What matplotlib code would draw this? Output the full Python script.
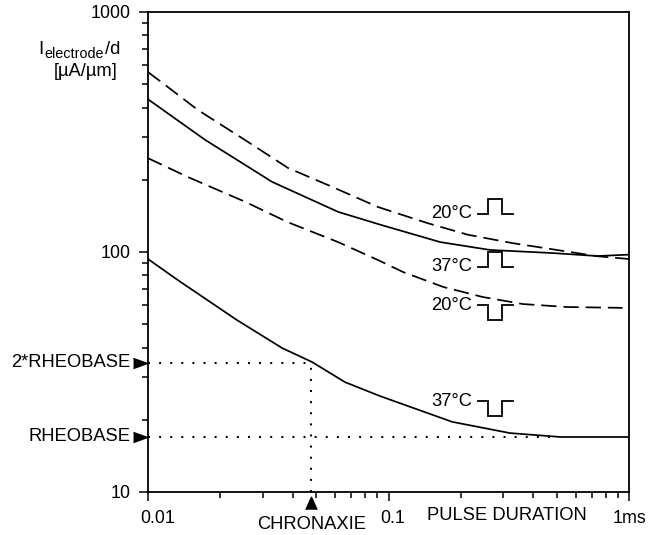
import matplotlib
matplotlib.use("Agg")
import matplotlib.pyplot as plt
from matplotlib import transforms

plt.rcParams['font.family'] = ['Liberation Sans', 'DejaVu Sans']
plt.rcParams['lines.scale_dashes'] = False

# ---------------- data (pulse duration in ms, current in uA/um) -------------
# 20 degC, positive pulse - upper dashed
up20_x = [0.01, 0.0118, 0.0161, 0.0253, 0.0382, 0.0582, 0.0904, 0.145, 0.214, 0.326, 0.50, 0.74, 1.0]
up20_y = [562, 496, 391, 293, 224, 187, 154, 132, 118, 109, 102, 96, 93.5]
# 37 degC, positive pulse - upper solid
up37_x = [0.01, 0.0173, 0.0328, 0.0617, 0.0923, 0.164, 0.264, 0.48, 0.74, 1.0]
up37_y = [433, 293, 196, 147, 130, 110, 102, 99, 96.2, 97.5]
# 20 degC, negative pulse - lower dashed
lo20_x = [0.01, 0.0147, 0.0253, 0.0382, 0.0617, 0.0904, 0.115, 0.169, 0.247, 0.362, 0.55, 0.94]
lo20_y = [246, 205, 162, 133, 110, 92.6, 82.5, 71.5, 64.9, 60.7, 59.0, 58.5]
# 37 degC, negative pulse - lower solid
lo37_x = [0.01, 0.0133, 0.0234, 0.0361, 0.0481, 0.0659, 0.0922, 0.184, 0.32, 0.52, 1.0]
lo37_y = [93.5, 76.4, 52.1, 39.8, 34.8, 28.7, 25.1, 19.6, 17.6, 16.95, 16.95]

rheobase = 17.0
two_rheobase = 34.5
chronaxie = 0.0477
rheobase_line_end = 0.48

x_ticks = [0.01, 0.1, 1.0]
x_ticklabels = ['0.01', '0.1', '1ms']
y_ticks = [10, 100, 1000]
y_ticklabels = ['10', '100', '1000']

curve_labels = ['20°C', '37°C', '20°C', '37°C']
label_y = [144, 86.6, 60.1, 23.9]
pulse_dir = [1, 1, -1, -1]
label_x = 0.223

# ---------------- figure -------------------------------------------------------
W, H = 650, 535
DPI = 100
fig = plt.figure(figsize=(W / DPI, H / DPI), dpi=DPI)
ax = fig.add_axes([148 / W, 1 - 492 / H, (629 - 148) / W, (492 - 12) / H])
ax.set_xscale('log')
ax.set_yscale('log')
ax.set_xlim(0.01, 1.0)
ax.set_ylim(10, 1000)

FS = 13.2
FS_TICK = 12.9
LW = 1.25
dash = (0, (11, 5))
dot = (0, (1.4, 6.6))

ax.plot(up20_x, up20_y, color='black', lw=LW, linestyle=dash)
ax.plot(up37_x, up37_y, color='black', lw=LW)
ax.plot(lo20_x, lo20_y, color='black', lw=LW, linestyle=dash)
ax.plot(lo37_x, lo37_y, color='black', lw=LW)

# dotted guide lines
ax.plot([0.01, chronaxie], [two_rheobase, two_rheobase], color='black', lw=1.5, linestyle=dot)
ax.plot([0.01, rheobase_line_end], [rheobase, rheobase], color='black', lw=1.5, linestyle=dot)
ax.plot([chronaxie, chronaxie], [10, two_rheobase], color='black', lw=1.5, linestyle=dot)

# ticks
ax.set_xticks(x_ticks)
ax.set_xticklabels(x_ticklabels)
ax.set_yticks(y_ticks)
ax.set_yticklabels(y_ticklabels)
ax.tick_params(which='major', direction='out', length=6.3, width=1.1, labelsize=FS_TICK, pad=6.5)
ax.tick_params(which='minor', direction='out', length=4, width=1.1)
ax.tick_params(axis='x', which='both', top=False)
ax.tick_params(axis='y', which='both', right=False)
ax.tick_params(axis='y', which='major', pad=6)
for s in ax.spines.values():
    s.set_linewidth(1.3)

# small horizontal shifts of x tick labels as in the reference
shifts = [10, 4, 1]
for lab, dx in zip(ax.get_xticklabels(), shifts):
    lab.set_transform(lab.get_transform() + transforms.ScaledTranslation(dx / DPI, 0, fig.dpi_scale_trans))

# axis annotations
fig.text(507 / W, 1 - 516 / H, 'PULSE DURATION', ha='center', va='center', fontsize=FS)
# y label: I_electrode/d   [uA/um]
fig.text(38 / W, 1 - 54 / H, 'I', ha='left', va='baseline', fontsize=FS)
fig.text(44 / W, 1 - 58 / H, 'electrode', ha='left', va='baseline', fontsize=10.4)
fig.text(105 / W, 1 - 54 / H, '/d', ha='left', va='baseline', fontsize=FS)
fig.text(86 / W, 1 - 71 / H, '[µA/µm]', ha='center', va='center', fontsize=FS)

# rheobase arrows and labels
blend = transforms.blended_transform_factory(ax.transAxes, ax.transData)
tri_right = [(-1, -0.72), (1, 0), (-1, 0.72)]
for yv, txt in [(two_rheobase, '2*RHEOBASE'), (rheobase, 'RHEOBASE')]:
    tr = blend + transforms.ScaledTranslation(-8 / DPI, 0, fig.dpi_scale_trans)
    ax.plot([0], [yv], marker=tri_right, markersize=10, color='black', transform=tr, clip_on=False)
    tr2 = blend + transforms.ScaledTranslation(-17.5 / DPI, 0, fig.dpi_scale_trans)
    ax.text(0, yv, txt, transform=tr2, ha='right', va='center', fontsize=FS)

# chronaxie arrow and label
blend_x = transforms.blended_transform_factory(ax.transData, ax.transAxes)
tri_up = [(-0.9, -1), (0, 1), (0.9, -1)]
trc = blend_x + transforms.ScaledTranslation(0, -10.5 / DPI, fig.dpi_scale_trans)
ax.plot([chronaxie], [0], marker=tri_up, markersize=9, color='black', transform=trc, clip_on=False)
trt = blend_x + transforms.ScaledTranslation(0, -32.5 / DPI, fig.dpi_scale_trans)
ax.text(chronaxie, 0, 'CHRONAXIE', transform=trt, ha='center', va='center', fontsize=FS)

# curve labels with pulse symbols
for txt, yv, d in zip(curve_labels, label_y, pulse_dir):
    ax.text(label_x, yv, txt, ha='right', va='center', fontsize=FS)
    px = [6, 16, 16, 30, 30, 41]
    py = [0, 0, 15 * d, 15 * d, 0, 0]
    shape_tr = fig.dpi_scale_trans + transforms.ScaledTranslation(label_x, yv, ax.transData)
    ax.plot([p / DPI for p in px], [p / DPI for p in py], color='black', lw=1.3,
            transform=shape_tr, clip_on=False, solid_joinstyle='miter')

fig.savefig('out.png', dpi=DPI)
